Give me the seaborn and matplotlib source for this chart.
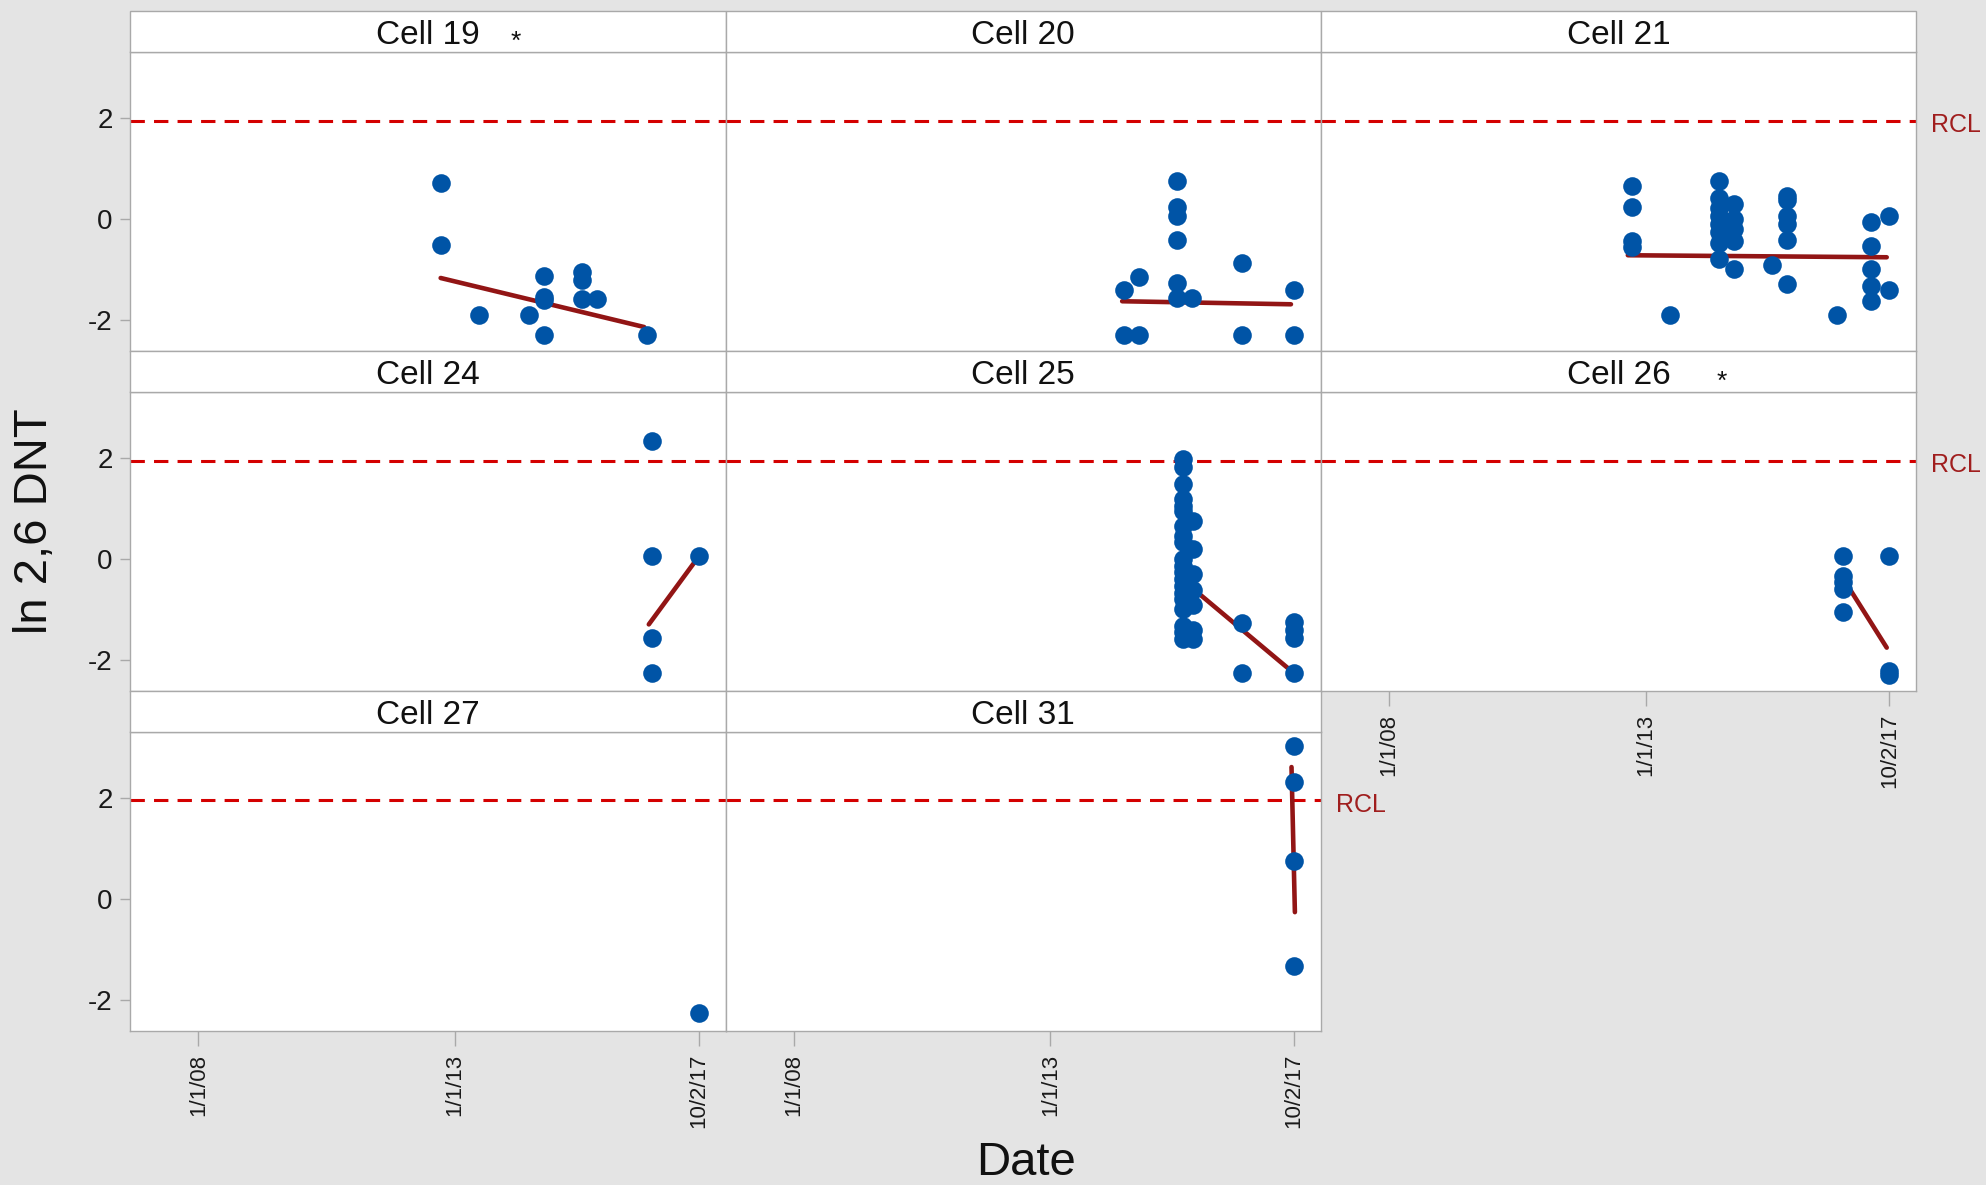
import numpy as np
import pandas as pd
import matplotlib
matplotlib.use("Agg")
import matplotlib.pyplot as plt
import matplotlib.transforms as mtransforms
from matplotlib.patches import Rectangle
import seaborn as sns

# Couleurs
BG = "#E4E4E4"
EDGE = "#A9A9A9"
BLUE = "#0054A6"
TREND = "#921515"
RCL_LINE = "#D40000"
RCL_TEXT = "#A01E1E"

CELLS = ["Cell 19", "Cell 20", "Cell 21", "Cell 24", "Cell 25", "Cell 26", "Cell 27", "Cell 31"]
FLAGGED = ["Cell 19", "Cell 26"]
RCL = 1.95

X_TICKS = ["2008-01-01", "2013-01-01", "2017-10-02"]
X_TICK_LABELS = ["1/1/08", "1/1/13", "10/2/17"]
Y_TICKS = [-2, 0, 2]

# --- données (ln 2,6 DNT) ---
dates_19 = ["2012-09-24", "2012-09-24", "2013-06-21", "2014-06-10", "2014-09-24", "2014-09-24",
            "2014-09-24", "2014-09-24", "2015-06-21", "2015-06-21", "2015-06-21", "2015-10-05",
            "2016-09-24"]
vals_19 = [0.71, -0.51, -1.90, -1.90, -2.28, -1.53, -1.60, -1.12, -1.05, -1.19, -1.58, -1.58, -2.28]

dates_20 = ["2014-06-10", "2014-06-10", "2014-09-24", "2014-09-24", "2015-06-21", "2015-06-21",
            "2015-06-21", "2015-06-21", "2015-06-21", "2015-06-21", "2015-10-05", "2016-09-24",
            "2016-09-24", "2017-10-02", "2017-10-02"]
vals_20 = [-2.28, -1.39, -2.28, -1.15, 0.76, 0.25, 0.07, -0.40, -1.25, -1.55, -1.55, -0.87,
           -2.28, -1.39, -2.28]

dates_21 = (["2012-09-24"] * 4 + ["2013-06-21"] + ["2014-06-10"] * 8 + ["2014-09-24"] * 5
            + ["2015-06-21"] + ["2015-10-05"] * 6 + ["2016-09-24"] + ["2017-05-27"] * 5
            + ["2017-10-02"] * 2)
vals_21 = [0.65, 0.24, -0.43, -0.54,
           -1.90,
           0.76, 0.43, 0.23, 0.07, -0.10, -0.26, -0.46, -0.79,
           0.30, 0.00, -0.20, -0.43, -0.98,
           -0.91,
           0.46, 0.38, 0.07, -0.10, -0.40, -1.27,
           -1.90,
           -0.05, -0.53, -0.98, -1.32, -1.62,
           0.07, -1.39]

dates_24 = ["2016-11-03"] * 4 + ["2017-10-02"]
vals_24 = [2.33, 0.07, -1.56, -2.26, 0.07]

dates_25 = (["2015-07-31"] * 20 + ["2015-10-12"] * 7 + ["2016-09-24"] * 2 + ["2017-10-02"] * 4)
vals_25 = [1.98, 1.82, 1.49, 1.19, 1.06, 0.96, 0.66, 0.46, 0.33, 0.00, -0.13, -0.26, -0.40,
           -0.53, -0.66, -0.79, -0.99, -1.32, -1.45, -1.58,
           0.76, 0.20, -0.30, -0.60, -0.90, -1.40, -1.58,
           -1.27, -2.26,
           -1.25, -1.40, -1.55, -2.26]

dates_26 = ["2016-11-03"] * 5 + ["2017-10-02"] * 3
vals_26 = [0.07, -0.33, -0.45, -0.58, -1.04, 0.07, -2.22, -2.30]

dates_27 = ["2017-10-02"]
vals_27 = [-2.26]

dates_31 = ["2017-10-02"] * 4
vals_31 = [3.02, 2.32, 0.76, -1.33]

# droites de tendance (début / fin)
trend_cells = ["Cell 19", "Cell 20", "Cell 21", "Cell 24", "Cell 25", "Cell 26", "Cell 31"]
trend_start = ["2012-09-20", "2014-05-27", "2012-08-28", "2016-10-10", "2015-11-28", "2016-12-24", "2017-09-13"]
trend_start_val = [-1.16, -1.62, -0.71, -1.29, -0.69, -0.59, 2.61]
trend_end = ["2016-09-07", "2017-09-09", "2017-09-13", "2017-09-03", "2017-08-29", "2017-09-13", "2017-10-07"]
trend_end_val = [-2.13, -1.68, -0.75, -0.05, -2.18, -1.75, -0.26]

series = {
    "Cell 19": (dates_19, vals_19), "Cell 20": (dates_20, vals_20),
    "Cell 21": (dates_21, vals_21), "Cell 24": (dates_24, vals_24),
    "Cell 25": (dates_25, vals_25), "Cell 26": (dates_26, vals_26),
    "Cell 27": (dates_27, vals_27), "Cell 31": (dates_31, vals_31),
}
df = pd.concat([pd.DataFrame({"cell": c, "date": pd.to_datetime(d), "value": v})
                for c, (d, v) in series.items()], ignore_index=True)

trend_df = pd.DataFrame({
    "cell": trend_cells * 2,
    "date": pd.to_datetime(trend_start + trend_end),
    "value": trend_start_val + trend_end_val,
})

sns.set_theme(style="white")
plt.rcParams.update({
    "figure.facecolor": BG,
    "axes.facecolor": "white",
    "axes.edgecolor": EDGE,
    "axes.linewidth": 1.0,
    "axes.unicode_minus": False,
    "xtick.color": EDGE,
    "ytick.color": EDGE,
    "xtick.labelcolor": "#1A1A1A",
    "ytick.labelcolor": "#1A1A1A",
})
plt.rcParams["font.family"] = ["Liberation Sans", "DejaVu Sans"]

g = sns.FacetGrid(df, col="cell", col_wrap=3, col_order=CELLS, sharex=True, sharey=True,
                  despine=False, height=3, aspect=2)
g.map_dataframe(sns.scatterplot, x="date", y="value", color=BLUE, s=180,
                linewidth=0, zorder=3)
g.set_titles(col_template="")
g.set_axis_labels("", "")

fig = g.figure
fig.set_size_inches(19.86, 11.85)
fig.subplots_adjust(left=0.0657, right=0.9648, top=0.9561, bottom=0.13,
                    wspace=0, hspace=0.1355)

strip_h = 40.5 / 299
tick_dates = pd.to_datetime(X_TICKS)

for i, cell in enumerate(CELLS):
    ax = g.axes_dict[cell]
    is_left = i % 3 == 0
    is_bottom = i >= 5
    right_most = i in (2, 5, 7)

    ax.axhline(RCL, color=RCL_LINE, lw=2.2, ls=(0, (4.7, 3.0)), zorder=1.5)

    tr = trend_df[trend_df["cell"] == cell]
    if len(tr):
        sns.lineplot(data=tr, x="date", y="value", ax=ax, color=TREND, linewidth=3.3,
                     estimator=None, sort=False, zorder=2)
    ax.set_xlabel("")
    ax.set_ylabel("")

    ax.set_xlim(pd.Timestamp("2006-09-05"), pd.Timestamp("2018-04-10"))
    ax.set_ylim(-2.61, 3.31)
    ax.set_xticks(tick_dates)
    ax.set_xticklabels(X_TICK_LABELS)
    ax.set_yticks(Y_TICKS)

    ax.tick_params(axis="x", bottom=is_bottom, labelbottom=is_bottom, length=10.8, width=1,
                   pad=5.5, labelsize=16, labelrotation=90)
    ax.tick_params(axis="y", left=is_left, labelleft=is_left, length=7.2, width=1,
                   pad=5.5, labelsize=20)
    for sp in ax.spines.values():
        sp.set_color(EDGE)
        sp.set_linewidth(1.0)

    # bandeau de titre
    ax.add_patch(Rectangle((0, 1), 1, strip_h, transform=ax.transAxes, facecolor="white",
                           edgecolor=EDGE, lw=1.0, clip_on=False, zorder=5))
    ax.text(0.5, 1 + 0.0268, cell, transform=ax.transAxes, ha="center", va="baseline",
            fontsize=24, color="#111111", zorder=6)
    if cell in FLAGGED:
        xs = 0.648 if cell == "Cell 19" else 0.673
        ax.text(xs, 1 + 0.011, "*", transform=ax.transAxes, ha="center", va="baseline",
                fontsize=19, color="#111111", zorder=6)

    if right_most:
        trans = mtransforms.blended_transform_factory(ax.transAxes, ax.transData)
        ax.text(1.025, RCL - 0.23, "RCL", transform=trans, ha="left", va="baseline",
                fontsize=18, color=RCL_TEXT, clip_on=False)

fig.text(0.0176, 0.56, "ln 2,6 DNT", rotation=90, ha="center", va="center",
         fontsize=34, color="#111111")
fig.text(0.5166, 0.0085, "Date", ha="center", va="baseline", fontsize=34, color="#111111")

fig.savefig("out.png", dpi=100, facecolor=BG)
